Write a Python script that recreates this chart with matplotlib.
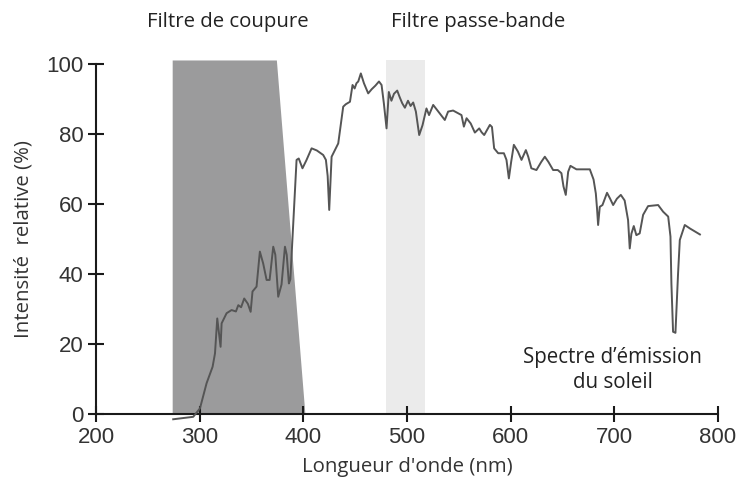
import matplotlib.pyplot as plt
import numpy as np

# solar emission spectrum
wavelength = [274.5, 293.8, 300.3, 306.7, 312.5, 314.8, 317.0, 320.2, 321.2, 326.0, 330.8, 335.0,
              337.3, 340.0, 343.0, 346.5, 349.2, 351.0, 354.9, 358.1, 361.3, 364.6, 367.5, 371.0,
              373.0, 375.8, 379.0, 382.3, 384.0, 386.1, 387.5, 389.0, 393.5, 395.6, 399.2, 403.0,
              408.0, 413.0, 419.2, 421.8, 423.5, 425.0, 427.3, 429.0, 433.7, 438.5, 441.0, 445.0,
              447.5, 449.5, 451.3, 453.0, 455.5, 458.5, 462.6, 466.0, 469.5, 473.0, 475.5, 477.7,
              480.3, 482.5, 485.0, 487.5, 490.6, 493.0, 495.4, 498.0, 501.0, 503.5, 506.0, 508.6,
              511.8, 515.0, 518.8, 521.3, 525.3, 530.0, 536.5, 539.7, 544.5, 552.6, 554.9, 557.5,
              561.5, 565.5, 569.7, 572.0, 574.5, 580.0, 582.0, 584.1, 588.0, 593.5, 596.0, 598.3,
              600.5, 603.1, 607.0, 610.5, 614.7, 617.0, 620.0, 624.9, 629.5, 633.0, 636.5, 641.0,
              645.5, 649.0, 651.0, 653.2, 655.5, 657.7, 663.5, 676.4, 680.0, 682.2, 683.4, 684.4,
              686.0, 688.6, 693.0, 696.0, 698.9, 702.5, 706.3, 710.0, 713.3, 714.9, 716.5, 718.8,
              721.3, 724.5, 727.8, 732.6, 742.3, 747.1, 752.0, 754.2, 755.1, 756.7, 759.0, 760.0,
              761.5, 763.2, 768.0, 773.0, 782.6]
intensity = [-1.5, -0.8, 1.6, 8.8, 13.5, 17.3, 27.3, 19.2, 25.9, 28.8, 29.7, 29.3,
             31.1, 30.5, 33.0, 31.5, 29.2, 35.0, 36.4, 46.4, 43.0, 38.3, 38.3, 47.8,
             45.5, 33.5, 37.0, 47.8, 45.5, 37.3, 38.5, 46.9, 72.6, 73.0, 70.2, 72.5,
             75.9, 75.3, 74.0, 72.6, 68.0, 58.3, 73.5, 74.5, 77.3, 87.8, 88.5, 89.2,
             94.0, 93.0, 94.5, 95.0, 97.3, 94.5, 91.6, 92.8, 93.8, 95.0, 94.0, 88.8,
             81.6, 92.0, 89.5, 91.5, 92.4, 90.5, 88.8, 87.5, 89.5, 88.0, 89.0, 86.4,
             79.7, 82.5, 87.3, 85.4, 88.3, 86.5, 84.0, 86.4, 86.7, 85.4, 82.1, 84.5,
             83.0, 80.4, 81.6, 80.5, 79.7, 82.6, 82.0, 75.9, 74.5, 74.5, 72.6, 67.3,
             72.0, 76.9, 75.0, 72.6, 75.4, 73.5, 70.2, 69.7, 72.0, 73.5, 72.0, 69.7,
             69.7, 68.8, 65.0, 62.6, 69.2, 70.9, 69.9, 69.9, 67.0, 63.0, 58.5, 54.0,
             59.2, 59.7, 63.2, 61.5, 59.7, 61.5, 62.6, 61.0, 55.4, 47.3, 51.5, 53.7,
             51.1, 51.6, 56.9, 59.4, 59.7, 57.8, 56.4, 50.7, 37.3, 23.5, 23.2, 29.7,
             40.0, 49.7, 54.0, 53.0, 51.3]

# cut-off filter outline (nm, %) and band-pass filter limits
cut_x = [274, 274, 374.5, 402]
cut_y = [0, 101, 101, 0]
band = [479.5, 517]

fig = plt.figure(figsize=(7.4, 4.88), dpi=100)
ax = fig.add_axes([0.1297, 0.1516, 0.8405, 0.7173])

ax.fill(cut_x, cut_y, color='#9b9b9c', lw=0, clip_on=False, zorder=1)
ax.fill_between(band, 0, 101, color='#ebebeb', lw=0, clip_on=False, zorder=1)
ax.plot(wavelength, intensity, color='#555555', lw=1.4, clip_on=False, zorder=3)

ax.set_xlim(200, 800)
ax.set_ylim(0, 100)
ax.set_xticks(np.arange(200, 801, 100))
ax.set_yticks(np.arange(0, 101, 20))
ax.spines['top'].set_visible(False)
ax.spines['right'].set_visible(False)
for s in ['left', 'bottom']:
    ax.spines[s].set_linewidth(1.5)
    ax.spines[s].set_color('#1a1a1a')
ax.tick_params(direction='inout', length=12, width=1.5, color='#1a1a1a',
               labelsize=16, labelcolor='#333333', pad=3)
for lab in ax.get_xticklabels() + ax.get_yticklabels():
    lab.set_fontfamily('Liberation Sans')

ax.set_xlabel("Longueur d'onde (nm)", fontsize=14.7, family='Open Sans', color='#333333', labelpad=7)
ax.set_ylabel("Intensité  relative (%)", fontsize=14.7, family='Open Sans', color='#333333', labelpad=9)

fig.text(228 / 740, 1 - 22 / 488, "Filtre de coupure", fontsize=14.7, family='Open Sans',
         color='#222222', ha='center', va='center')
fig.text(478 / 740, 1 - 22 / 488, "Filtre passe-bande", fontsize=14.7, family='Open Sans',
         color='#222222', ha='center', va='center')
ax.text(698.5, 12.6, "Spectre d\u2019émission\ndu soleil", fontsize=14.8, family='Open Sans',
        color='#222222', ha='center', va='center', linespacing=1.2)

fig.savefig('out.png', dpi=100)
